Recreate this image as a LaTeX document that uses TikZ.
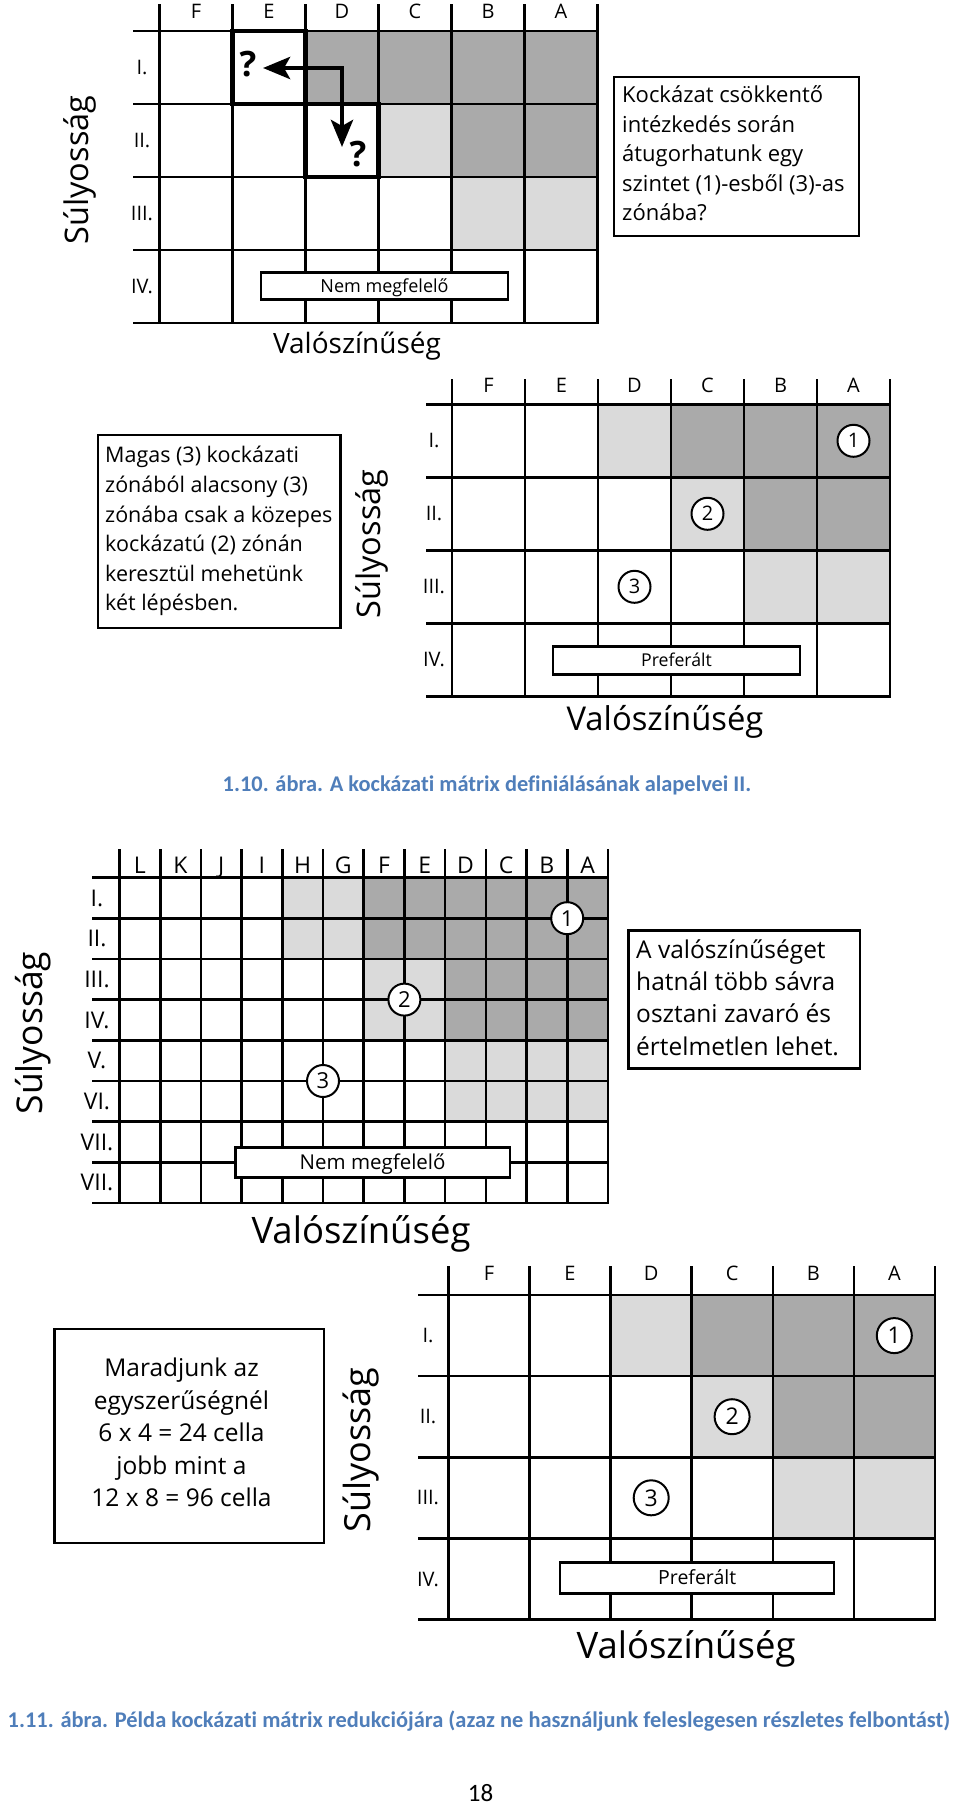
\documentclass[tikz,border=0pt]{standalone}
\usepackage{fontspec}
\setmainfont{Open Sans}
\newfontfamily\capfont{Carlito}[Ligatures={NoCommon}]
\usetikzlibrary{arrows.meta}
\definecolor{zdark}{RGB}{170,170,170}
\definecolor{zlight}{RGB}{218,218,218}
\definecolor{capblue}{RGB}{79,126,186}
\newcommand{\fs}[2]{\fontsize{#1}{#2}\selectfont}
% grid lines: x0,y0,cw,ch,ncols,nrows,xLeft,yTop
\newcommand{\rgrid}[8]{%
  \foreach \k in {0,...,#6}{\draw[gridline] (#7,{#2+\k*#4}) -- ({#1+#5*#3},{#2+\k*#4});}
  \foreach \k in {0,...,#5}{\draw[gridline] ({#1+\k*#3},#8) -- ({#1+\k*#3},{#2+#6*#4});}
}
% cell fills: colour,x0,y0,c,list i/j
\newcommand{\cells}[5]{\foreach \i/\j in {#5}{\fill[#1] ({#2+\i*#4},{#3+\j*#4}) rectangle ++(#4,#4);}}
\begin{document}
\begin{tikzpicture}[x=1pt,y=-1pt,
  gridline/.style={line width=2.6pt, line cap=rect},
  thickbox/.style={line width=4.6pt},
  arrowline/.style={line width=4.6pt, {Stealth[length=27pt,width=22pt,inset=6pt]}-{Stealth[length=27pt,width=22pt,inset=6pt]}},
  textbox/.style={draw, line width=2.2pt, inner sep=0pt, anchor=north west},
  bl/.style={anchor=base west, inner sep=0pt},
  blc/.style={anchor=base, inner sep=0pt},
  band/.style={draw, fill=white, line width=2.5pt, inner sep=0pt, text depth=0pt},
  lbl/.style={inner sep=0pt, text depth=0pt},
  circ/.style={circle, draw, fill=white, line width=2pt, inner sep=0pt, text depth=0pt},
  axlbl/.style={inner sep=0pt},
  qmark/.style={inner sep=0pt, font=\fs{35}{40}\bfseries, text height=25pt, text depth=0pt},
]
\useasboundingbox (0,0) rectangle (960,1806);
\fill[white] (0,0) rectangle (960,1806);

% ================= Grid 1 (top) =================
\cells{zdark}{159.5}{31}{73}{2/0,3/0,4/0,5/0,4/1,5/1}
\cells{zlight}{159.5}{31}{73}{3/1,4/2,5/2}
\rgrid{159.5}{31}{73}{73}{6}{4}{134}{5}
\foreach \t [count=\i from 0] in {F,E,D,C,B,A}{\node[lbl, font=\fs{20}{24}, text height=14.3pt] (ga\t) at ({159.5+(\i+0.5)*73},11) {\t};}
\foreach \t [count=\j from 0] in {I,II,III,IV}{\node[lbl, font=\fs{20}{24}, text height=14.3pt] (gaR\j) at (142,{31+(\j+0.5)*73}) {\t.};}
\draw[thickbox] (232.5,31) rectangle (305.5,104);
\draw[thickbox] (305.5,104) rectangle (378.5,177);
\coordinate (arL) at (263,68);
\coordinate (arC) at (342,68);
\coordinate (arD) at (342,147);
\draw[arrowline] (arL) -- (arC) -- (arD);
\node[qmark] (q1) at (248,64) {?};
\node[qmark] (q2) at (358,154) {?};
\node[band, minimum width=247pt, minimum height=26.6pt, font=\fs{18}{22}, text height=12.9pt] (nm1) at (384.5,286) {Nem megfelelő};
\node[axlbl, rotate=90, font=\fs{32.5}{36}] (s1) at (80,170) {Súlyosság};
\node[blc, font=\fs{28}{32}] (v1) at (357,353) {Valószínűség};
\node[textbox, minimum width=245pt, minimum height=159pt] (box1) at (613,76) {};
\begin{scope}[font=\fs{22}{29.5}]
\node[bl] (b1a) at (622,102.7) {Kockázat csökkentő};
\node[bl] (b1b) at (622,132.2) {intézkedés során};
\node[bl] (b1c) at (622,161.7) {átugorhatunk egy};
\node[bl] (b1d) at (622,191.2) {szintet (1)-esből (3)-as};
\node[bl] (b1e) at (622,220.7) {zónába?};
\end{scope}

% ================= Grid 2 =================
\cells{zdark}{452}{404.3}{73}{3/0,4/0,5/0,4/1,5/1}
\cells{zlight}{452}{404.3}{73}{2/0,3/1,4/2,5/2}
\rgrid{452}{404.3}{73}{73}{6}{4}{427}{380}
\foreach \t [count=\i from 0] in {F,E,D,C,B,A}{\node[lbl, font=\fs{20}{24}, text height=14.3pt] (gb\t) at ({452+(\i+0.5)*73},385) {\t};}
\foreach \t [count=\j from 0] in {I,II,III,IV}{\node[lbl, font=\fs{20}{24}, text height=14.3pt] (gbR\j) at (434,{404.3+(\j+0.5)*73}) {\t.};}
\node[circ, minimum size=32pt, font=\fs{20}{24}, text height=14.3pt] (cb1) at (853.5,440.8) {1};
\node[circ, minimum size=32pt, font=\fs{20}{24}, text height=14.3pt] (cb2) at (707.5,513.8) {2};
\node[circ, minimum size=32pt, font=\fs{20}{24}, text height=14.3pt] (cb3) at (634.5,586.8) {3};
\node[band, minimum width=247pt, minimum height=27.6pt, font=\fs{17.7}{22}, text height=12.6pt] (pf2) at (676.5,660.5) {Preferált};
\node[axlbl, rotate=90, font=\fs{32.5}{36}] (s2) at (372,544) {Súlyosság};
\node[blc, font=\fs{32.8}{36}] (v2) at (665,730) {Valószínűség};
\node[textbox, minimum width=242.6pt, minimum height=192.7pt] (box2) at (96.7,434) {};
\begin{scope}[font=\fs{21.5}{29.5}]
\node[bl] (b2a) at (105,462.7) {Magas (3) kockázati};
\node[bl] (b2b) at (105,492.3) {zónából alacsony (3)};
\node[bl] (b2c) at (105,522) {zónába csak a közepes};
\node[bl] (b2d) at (105,551.6) {kockázatú (2) zónán};
\node[bl] (b2e) at (105,581.2) {keresztül mehetünk};
\node[bl] (b2f) at (105,610.8) {két lépésben.};
\end{scope}

% caption 1.10
\node[blc, font=\capfont\bfseries\fs{22.4}{26}, text=capblue] (cap1) at (487,791.5) {1.10. ábra. A kockázati mátrix definiálásának alapelvei II.};

% ================= Grid 3 (12 x 8) =================
\fill[zdark] (363.7,877.5) rectangle (607.9,958.9);
\fill[zdark] (445.1,958.9) rectangle (607.9,1040.3);
\fill[zlight] (282.3,877.5) rectangle (363.7,958.9);
\fill[zlight] (363.7,958.9) rectangle (445.1,1040.3);
\fill[zlight] (445.1,1040.3) rectangle (607.9,1121.7);
\rgrid{119.5}{877.5}{40.7}{40.7}{12}{8}{93}{850}
\foreach \t [count=\i from 0] in {L,K,J,I,H,G,F,E,D,C,B,A}{\node[lbl, font=\fs{23}{26}, text height=16.4pt] (gc\t) at ({119.5+(\i+0.5)*40.7},865) {\t};}
\foreach \t [count=\j from 0] in {I,II,III,IV,V,VI,VII,VII}{\node[lbl, font=\fs{23}{26}, text height=16.4pt] (gcR\j) at (97,{877.5+(\j+0.5)*40.7}) {\t.};}
\node[circ, minimum size=32pt, font=\fs{22}{26}, text height=15.7pt] (cc1) at (567.2,918.2) {1};
\node[circ, minimum size=32pt, font=\fs{22}{26}, text height=15.7pt] (cc2) at (404.4,999.6) {2};
\node[circ, minimum size=32pt, font=\fs{22}{26}, text height=15.7pt] (cc3) at (323,1081) {3};
\node[band, minimum width=274.7pt, minimum height=30pt, font=\fs{20.5}{24}, text height=14.6pt] (nm3) at (372.6,1162.3) {Nem megfelelő};
\node[axlbl, rotate=90, font=\fs{35.5}{40}] (s3) at (33,1033) {Súlyosság};
\node[blc, font=\fs{36.5}{40}] (v3) at (361,1243) {Valószínűség};
\node[textbox, minimum width=231.4pt, minimum height=138pt] (box3) at (627.3,929.3) {};
\begin{scope}[font=\fs{24.5}{32}]
\node[bl] (b3a) at (636,958.3) {A valószínűséget};
\node[bl] (b3b) at (636,990.5) {hatnál több sávra};
\node[bl] (b3c) at (636,1022.7) {osztani zavaró és};
\node[bl] (b3d) at (636,1055) {értelmetlen lehet.};
\end{scope}

% ================= Grid 4 =================
\cells{zdark}{448.4}{1295}{81.1}{3/0,4/0,5/0,4/1,5/1}
\cells{zlight}{448.4}{1295}{81.1}{2/0,3/1,4/2,5/2}
\rgrid{448.4}{1295}{81.1}{81.1}{6}{4}{419}{1267}
\foreach \t [count=\i from 0] in {F,E,D,C,B,A}{\node[lbl, font=\fs{20}{24}, text height=14.3pt] (gd\t) at ({448.4+(\i+0.5)*81.1},1273) {\t};}
\foreach \t [count=\j from 0] in {I,II,III,IV}{\node[lbl, font=\fs{20}{24}, text height=14.3pt] (gdR\j) at (428,{1295+(\j+0.5)*81.1}) {\t.};}
\node[circ, minimum size=35pt, font=\fs{23}{26}, text height=16.4pt] (cd1) at (894.3,1335.6) {1};
\node[circ, minimum size=35pt, font=\fs{23}{26}, text height=16.4pt] (cd2) at (732.1,1416.7) {2};
\node[circ, minimum size=35pt, font=\fs{23}{26}, text height=16.4pt] (cd3) at (651.2,1497.8) {3};
\node[band, minimum width=274pt, minimum height=30.6pt, font=\fs{19.5}{24}, text height=13.9pt] (pf4) at (697.2,1578) {Preferált};
\node[axlbl, rotate=90, font=\fs{36}{40}] (s4) at (361,1450) {Súlyosság};
\node[blc, font=\fs{36.5}{40}] (v4) at (686,1658) {Valószínűség};
\node[textbox, minimum width=269.4pt, minimum height=214pt] (box4) at (53.3,1327.7) {};
\begin{scope}[font=\fs{24.5}{33}]
\node[blc] (b4a) at (181.5,1376) {Maradjunk az};
\node[blc] (b4b) at (181.5,1409) {egyszerűségnél};
\node[blc] (b4c) at (181.5,1441.5) {6 x 4 = 24 cella};
\node[blc] (b4d) at (181.5,1474) {jobb mint a};
\node[blc] (b4e) at (181.5,1506.7) {12 x 8 = 96 cella};
\end{scope}

% caption 1.11 and page number
\node[blc, font=\capfont\bfseries\fs{22.4}{26}, text=capblue] (cap2) at (479,1727) {1.11. ábra. Példa kockázati mátrix redukciójára (azaz ne használjunk feleslegesen részletes felbontást)};
\node[blc, font=\capfont\fs{25}{28}] (pg) at (480.5,1801) {18};
\end{tikzpicture}
\end{document}
